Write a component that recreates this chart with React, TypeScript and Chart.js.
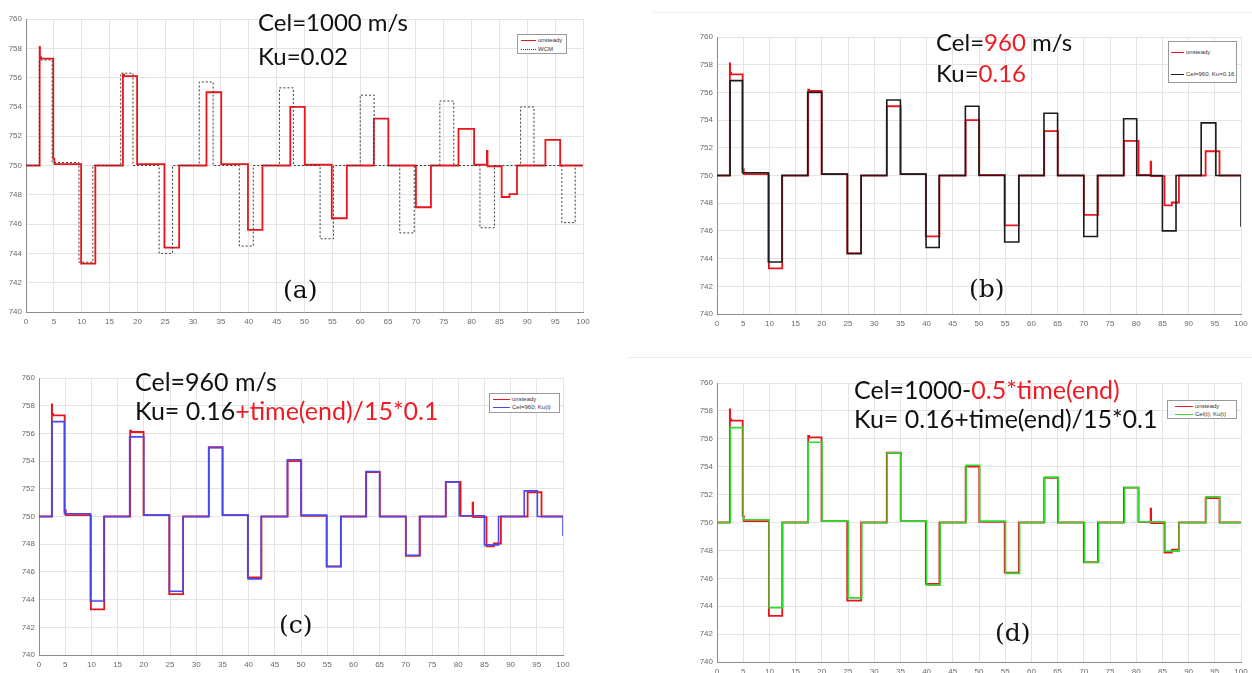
import React, { useEffect, useRef } from "react";
import { Chart, registerables } from "chart.js";

Chart.register(...registerables);

// ---------------- data (time in s, head in m) ----------------
const xTickValues = [0, 5, 10, 15, 20, 25, 30, 35, 40, 45, 50, 55, 60, 65, 70, 75, 80, 85, 90, 95, 100];
const yTickValues = [740, 742, 744, 746, 748, 750, 752, 754, 756, 758, 760];

// measured "unsteady" trace (same in every panel): time of each change and new level
const unsteadyTime = [0, 2.45, 2.5, 2.7, 4.9, 5.1, 9.9, 12.45, 17.4, 17.6, 19.95, 24.85, 27.5, 32.4, 35.05, 39.85, 42.45, 47.45, 50.05, 54.9, 57.6, 62.45, 65.05, 70.0, 72.7, 77.65, 80.45, 82.75, 82.85, 85.4, 86.8, 88.15, 93.25, 95.9, 100];
const unsteadyHead = [750, 758.1, 757.4, 757.3, 750.45, 750.1, 743.3, 750.0, 756.2, 756.1, 750.1, 744.4, 750.0, 755.0, 750.1, 745.6, 750.0, 754.0, 750.05, 746.4, 750.0, 753.2, 750.0, 747.15, 750.0, 752.5, 750.05, 751.0, 749.95, 747.85, 748.05, 750.0, 751.75, 750.0, 750.0];

// (a) WCM model, Cel=1000, Ku=0.02
const wcmTime = [0, 2.4, 4.7, 9.5, 12.0, 17.0, 19.2, 23.9, 26.3, 31.1, 33.6, 38.3, 40.8, 45.5, 48.0, 52.8, 55.2, 60.0, 62.5, 67.1, 69.7, 74.3, 76.8, 81.5, 84.1, 88.8, 91.2, 96.2, 98.6, 100];
const wcmHead = [750, 757.2, 750.2, 743.4, 750, 756.3, 750, 744.0, 750, 755.7, 750, 744.5, 750, 755.3, 750, 745.0, 750, 754.8, 750, 745.4, 750, 754.4, 750, 745.75, 750, 754.0, 750, 746.1, 750, 750];

// (b) Cel=960, Ku=0.16
const constKuTime = [0, 2.5, 4.85, 9.8, 12.4, 17.3, 20.0, 24.9, 27.5, 32.4, 35.0, 39.9, 42.4, 47.4, 50.0, 54.9, 57.6, 62.4, 65.0, 70.0, 72.6, 77.6, 80.1, 85.0, 87.6, 92.4, 95.2, 100, 100];
const constKuHead = [750, 756.85, 750.2, 743.75, 750, 756.0, 750.1, 744.35, 750, 755.45, 750.1, 744.8, 750, 755.0, 750, 745.2, 750, 754.5, 750, 745.6, 750, 754.1, 750, 746.0, 750, 753.8, 750, 750, 746.3];

// (c) Cel=960, Ku(t)
const varKuTime = [0, 2.5, 4.85, 9.8, 12.4, 17.3, 20.0, 24.9, 27.5, 32.4, 35.0, 39.9, 42.4, 47.4, 50.0, 54.9, 57.6, 62.4, 65.0, 70.0, 72.6, 77.6, 80.2, 85.0, 87.7, 92.6, 95.1, 100, 100];
const varKuHead = [750, 756.85, 750.2, 743.9, 750, 755.75, 750.1, 744.6, 750, 754.97, 750.1, 745.5, 750, 754.1, 750.1, 746.38, 750, 753.25, 750, 747.2, 750, 752.5, 750.05, 747.95, 750, 751.85, 750, 750, 748.6];

// (d) Cel(t), Ku(t)
const varCelTime = [0, 2.55, 5.0, 9.95, 12.55, 17.4, 20.05, 25.05, 27.65, 32.5, 35.1, 40.0, 42.6, 47.55, 50.15, 55.05, 57.75, 62.55, 65.15, 70.15, 72.85, 77.8, 80.4, 85.5, 88.2, 93.3, 95.95, 100];
const varCelHead = [750, 756.8, 750.2, 743.9, 750, 755.75, 750.1, 744.6, 750, 755.0, 750.1, 745.5, 750, 754.1, 750.1, 746.35, 750, 753.25, 750, 747.15, 750, 752.5, 750.05, 747.95, 750, 751.85, 750, 750];

// ---------------- styles ----------------
const RED = "#e8161c";
const BLACK = "#1c1c1c";
const DOTTED = "#3a3a3a";
const BLUE = "#4848ee";
const GREEN = "#2fdc2f";

type Series = { name: string; t: number[]; v: number[]; color: string; width: number; dash?: number[]; order: number };

const unsteady: Series = { name: "unsteady", t: unsteadyTime, v: unsteadyHead, color: RED, width: 1.8, order: 1 };

type Box = { left: number; top: number; right: number; bottom: number };

const PAD_L = 32, PAD_R = 16, PAD_T = 10, PAD_B = 26;

function Panel({ box, series }: { box: Box; series: Series[] }) {
  const ref = useRef<HTMLCanvasElement>(null);
  useEffect(() => {
    if (!ref.current) return;
    const chart = new Chart(ref.current, {
      type: "line",
      data: {
        datasets: series.map((s) => ({
          label: s.name,
          data: s.t.map((t, i) => ({ x: t, y: s.v[i] })),
          borderColor: s.color,
          backgroundColor: s.color,
          borderWidth: s.width,
          borderDash: s.dash || [],
          stepped: "before" as const,
          pointRadius: 0,
          fill: false,
          order: s.order,
        })),
      },
      options: {
        responsive: false,
        maintainAspectRatio: false,
        animation: false,
        layout: { padding: { left: 0, right: PAD_R, top: PAD_T, bottom: 0 } },
        plugins: { legend: { display: false }, tooltip: { enabled: false } },
        scales: {
          x: {
            type: "linear",
            min: 0,
            max: 100,
            afterFit: (s: any) => { s.height = PAD_B; },
            afterBuildTicks: (s: any) => { s.ticks = xTickValues.map((v) => ({ value: v })); },
            ticks: { autoSkip: false, maxRotation: 0, padding: 5, color: "#6a6a6a", font: { size: 8, family: "Liberation Sans" } },
            grid: { color: "#e4e4e4", drawTicks: false, lineWidth: 1 },
            border: { color: "#8c8c8c" },
          },
          y: {
            type: "linear",
            min: 740,
            max: 760,
            afterFit: (s: any) => { s.width = PAD_L; },
            afterBuildTicks: (s: any) => { s.ticks = yTickValues.map((v) => ({ value: v })); },
            ticks: { autoSkip: false, padding: 4, color: "#6a6a6a", font: { size: 8, family: "Liberation Sans" } },
            grid: { color: "#e4e4e4", drawTicks: false, lineWidth: 1 },
            border: { color: "#8c8c8c" },
          },
        },
      },
    });
    return () => chart.destroy();
  }, []);
  const w = box.right - box.left + PAD_L + PAD_R;
  const h = box.bottom - box.top + PAD_T + PAD_B;
  return (
    <canvas
      ref={ref}
      width={w}
      height={h}
      style={{ position: "absolute", left: box.left - PAD_L, top: box.top - PAD_T, width: w, height: h }}
    />
  );
}

function Legend({ x, y, w, h, items, lineX0, lineX1, textX, rowY }: { x: number; y: number; w: number; h: number; items: Series[]; lineX0: number; lineX1: number; textX: number; rowY: number[] }) {
  return (
    <div style={{ position: "absolute", left: x, top: y, width: w, height: h, border: "1px solid #9a9a9a", background: "#fff", boxSizing: "border-box" }}>
      {items.map((it, i) => (
        <React.Fragment key={i}>
          <div style={{ position: "absolute", left: lineX0 - x, top: rowY[i] - y - 1, width: lineX1 - lineX0, height: 0, borderTop: `${it.dash ? 1 : 1.5}px ${it.dash ? "dotted" : "solid"} ${it.color}` }} />
          <div style={{ position: "absolute", left: textX - x, top: rowY[i] - y - 4, fontFamily: "Liberation Sans", fontSize: 6, lineHeight: "7px", color: "#333", whiteSpace: "nowrap" }}>{it.name}</div>
        </React.Fragment>
      ))}
    </div>
  );
}

const annoFont: React.CSSProperties = { position: "absolute", fontFamily: "Lato", fontSize: 25, lineHeight: "25px", color: "#111", whiteSpace: "nowrap" };
const annoSmall: React.CSSProperties = { ...annoFont, fontSize: 24, lineHeight: "24px" };
const tagFont: React.CSSProperties = { position: "absolute", fontFamily: "DejaVu Serif", fontSize: 25, lineHeight: "25px", color: "#111", whiteSpace: "nowrap" };
const R = (s: string) => <span style={{ color: "#ee1c24" }}>{s}</span>;

export default function App() {
  const wcm: Series = { name: "WCM", t: wcmTime, v: wcmHead, color: DOTTED, width: 1, dash: [2, 2], order: 0 };
  const sB: Series = { name: "Cel=960; Ku=0.16", t: constKuTime, v: constKuHead, color: BLACK, width: 1.6, order: 0 };
  const sC: Series = { name: "Cel=960; Ku(t)", t: varKuTime, v: varKuHead, color: BLUE, width: 1.6, order: 0 };
  const sD: Series = { name: "Cel(t); Ku(t)", t: varCelTime, v: varCelHead, color: GREEN, width: 1.6, order: 0 };

  return (
    <div style={{ position: "absolute", left: 0, top: 0, width: 1252, height: 673, background: "#fff", overflow: "hidden" }}>
      {/* faint frame edges of the source images */}
      <div style={{ position: "absolute", left: 652, top: 12, width: 600, height: 0, borderTop: "1px solid #efefef" }} />
      <div style={{ position: "absolute", left: 627, top: 357, width: 625, height: 0, borderTop: "1px solid #ececec" }} />

      <Panel box={{ left: 26, top: 19, right: 583, bottom: 312 }} series={[unsteady, wcm]} />
      <Panel box={{ left: 717, top: 37, right: 1241, bottom: 314 }} series={[unsteady, sB]} />
      <Panel box={{ left: 39, top: 378, right: 563, bottom: 655 }} series={[unsteady, sC]} />
      <Panel box={{ left: 717, top: 383, right: 1241, bottom: 662 }} series={[unsteady, sD]} />

      <Legend x={517} y={34} w={50} h={20} items={[unsteady, wcm]} lineX0={520} lineX1={535} textX={537} rowY={[40, 49]} />
      <Legend x={1168} y={41} w={69} h={42} items={[unsteady, sB]} lineX0={1170} lineX1={1183} textX={1185} rowY={[52, 74]} />
      <Legend x={489} y={393} w={71} h={20} items={[unsteady, sC]} lineX0={492} lineX1={509} textX={511} rowY={[399, 407]} />
      <Legend x={1167} y={400} w={70} h={19} items={[unsteady, sD]} lineX0={1174} lineX1={1192} textX={1194} rowY={[406, 414]} />

      <div style={{ ...annoSmall, left: 258, top: 10 }}>Cel=1000 m/s</div>
      <div style={{ ...annoSmall, left: 258, top: 44 }}>Ku=0.02</div>

      <div style={{ ...annoSmall, left: 936, top: 30 }}>Cel={R("960")} m/s</div>
      <div style={{ ...annoSmall, left: 936, top: 61 }}>Ku={R("0.16")}</div>

      <div style={{ ...annoFont, left: 135, top: 369 }}>Cel=960 m/s</div>
      <div style={{ ...annoFont, left: 135, top: 398 }}>Ku= 0.16{R("+time(end)/15*0.1")}</div>

      <div style={{ ...annoFont, left: 854, top: 377 }}>Cel=1000-{R("0.5*time(end)")}</div>
      <div style={{ ...annoFont, left: 854, top: 406 }}>Ku= 0.16+time(end)/15*0.1</div>

      <div style={{ ...tagFont, left: 283, top: 277 }}>(a)</div>
      <div style={{ ...tagFont, left: 969, top: 276 }}>(b)</div>
      <div style={{ ...tagFont, left: 279, top: 612 }}>(c)</div>
      <div style={{ ...tagFont, left: 995, top: 620 }}>(d)</div>
    </div>
  );
}
